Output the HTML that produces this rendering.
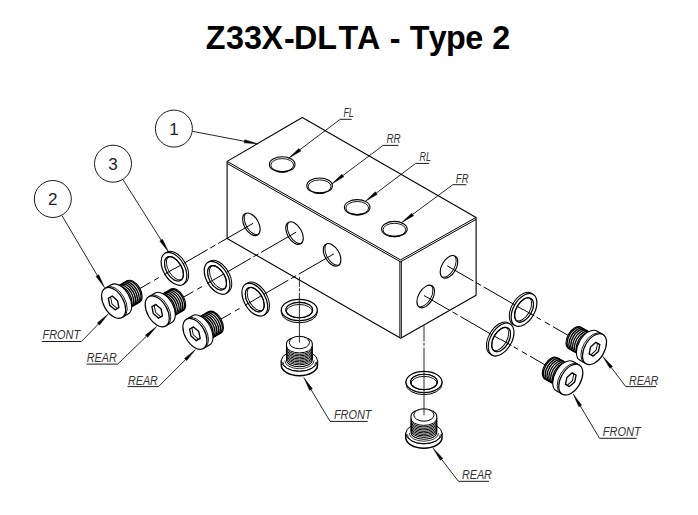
<!DOCTYPE html>
<html lang="en"><head><meta charset="utf-8"><title>Z33X-DLTA - Type 2</title>
<style>
html,body{margin:0;padding:0;background:#fff;}
body{width:698px;height:515px;overflow:hidden;}
svg{display:block;}
text{font-family:"Liberation Sans",Arial,Helvetica,sans-serif;stroke:none;fill:#000;}
.tt{font-kerning:none;}
.lb{fill:#333;}
.bl{fill:#222;}
</style></head><body>
<svg width="698" height="515" viewBox="0 0 698 515" fill="none" stroke="#000" stroke-linecap="butt" stroke-linejoin="round">
<rect x="0" y="0" width="698" height="515" fill="#fff" stroke="none"/>
<text transform="translate(0 49) scale(1 1.03)" x="205.8 225.9 244.1 261.4 283.9 293.9 317.3 338.5 356.9 380.2 389.8 400.2 409.7 428.7 446.0 465.3 483.2 492.2" y="0 0 0 0 1.2 0 0 0 0 0 1.2 0 0 0 0 0 0 0" font-size="32.3" font-weight="bold" class="tt">Z33X-DLTA - Type 2</text>
<polygon points="302.3,117.5 476.1,217.4 476.1,295.3 400.7,338.2 227.1,238.4 227.1,161.4" fill="#fff" stroke-width="1.1"/>
<line x1="227.10" y1="161.40" x2="400.55" y2="259.90" stroke-width="1.0" />
<line x1="400.55" y1="259.90" x2="476.10" y2="217.40" stroke-width="1.0" />
<line x1="227.10" y1="163.35" x2="400.55" y2="261.85" stroke-width="1.0" />
<line x1="400.55" y1="261.85" x2="476.10" y2="219.35" stroke-width="1.0" />
<line x1="399.85" y1="261.10" x2="399.85" y2="337.90" stroke-width="0.95" />
<line x1="401.35" y1="261.10" x2="401.35" y2="337.90" stroke-width="0.95" />
<ellipse cx="282.20" cy="164.40" rx="12.8" ry="7.7" fill="#fff" stroke-width="1.1"/>
<ellipse cx="282.20" cy="165.10" rx="11.40" ry="6.50" fill="none" stroke-width="0.9"/>
<path d="M 277.08 171.18 A 12.80 7.70 0 0 0 287.32 171.18" fill="none" stroke-width="1.5"/>
<ellipse cx="319.60" cy="185.70" rx="12.8" ry="7.7" fill="#fff" stroke-width="1.1"/>
<ellipse cx="319.60" cy="186.40" rx="11.40" ry="6.50" fill="none" stroke-width="0.9"/>
<path d="M 314.48 192.48 A 12.80 7.70 0 0 0 324.72 192.48" fill="none" stroke-width="1.5"/>
<ellipse cx="357.20" cy="207.30" rx="12.8" ry="7.7" fill="#fff" stroke-width="1.1"/>
<ellipse cx="357.20" cy="208.00" rx="11.40" ry="6.50" fill="none" stroke-width="0.9"/>
<path d="M 352.08 214.08 A 12.80 7.70 0 0 0 362.32 214.08" fill="none" stroke-width="1.5"/>
<ellipse cx="394.40" cy="229.10" rx="12.8" ry="7.7" fill="#fff" stroke-width="1.1"/>
<ellipse cx="394.40" cy="229.80" rx="11.40" ry="6.50" fill="none" stroke-width="0.9"/>
<path d="M 389.28 235.88 A 12.80 7.70 0 0 0 399.52 235.88" fill="none" stroke-width="1.5"/>
<g transform="translate(251.40 224.30) rotate(60)">
<clipPath id="hc251_224"><ellipse cx="0" cy="0" rx="12.4" ry="7.2"/></clipPath>
<ellipse cx="0" cy="0" rx="12.4" ry="7.2" fill="#fff" stroke="none"/>
<ellipse cx="0" cy="-1.9" rx="12.4" ry="7.2" fill="none" stroke-width="0.9" clip-path="url(#hc251_224)"/>
<ellipse cx="0" cy="0" rx="12.4" ry="7.2" fill="none" stroke-width="1.1"/>
</g>
<g transform="translate(294.50 233.10) rotate(60)">
<clipPath id="hc294_233"><ellipse cx="0" cy="0" rx="12.4" ry="7.2"/></clipPath>
<ellipse cx="0" cy="0" rx="12.4" ry="7.2" fill="#fff" stroke="none"/>
<ellipse cx="0" cy="-1.9" rx="12.4" ry="7.2" fill="none" stroke-width="0.9" clip-path="url(#hc294_233)"/>
<ellipse cx="0" cy="0" rx="12.4" ry="7.2" fill="none" stroke-width="1.1"/>
</g>
<g transform="translate(332.10 254.90) rotate(60)">
<clipPath id="hc332_254"><ellipse cx="0" cy="0" rx="12.4" ry="7.2"/></clipPath>
<ellipse cx="0" cy="0" rx="12.4" ry="7.2" fill="#fff" stroke="none"/>
<ellipse cx="0" cy="-1.9" rx="12.4" ry="7.2" fill="none" stroke-width="0.9" clip-path="url(#hc332_254)"/>
<ellipse cx="0" cy="0" rx="12.4" ry="7.2" fill="none" stroke-width="1.1"/>
</g>
<g transform="translate(449.00 266.90) rotate(-60)">
<clipPath id="hc449_266"><ellipse cx="0" cy="0" rx="12.4" ry="7.2"/></clipPath>
<ellipse cx="0" cy="0" rx="12.4" ry="7.2" fill="#fff" stroke="none"/>
<ellipse cx="0" cy="-1.9" rx="12.4" ry="7.2" fill="none" stroke-width="0.9" clip-path="url(#hc449_266)"/>
<ellipse cx="0" cy="0" rx="12.4" ry="7.2" fill="none" stroke-width="1.1"/>
</g>
<g transform="translate(425.70 296.50) rotate(-60)">
<clipPath id="hc425_296"><ellipse cx="0" cy="0" rx="12.4" ry="7.2"/></clipPath>
<ellipse cx="0" cy="0" rx="12.4" ry="7.2" fill="#fff" stroke="none"/>
<ellipse cx="0" cy="-1.9" rx="12.4" ry="7.2" fill="none" stroke-width="0.9" clip-path="url(#hc425_296)"/>
<ellipse cx="0" cy="0" rx="12.4" ry="7.2" fill="none" stroke-width="1.1"/>
</g>
<line x1="253.13" y1="223.30" x2="218.06" y2="243.55" stroke-width="1.0" />
<line x1="215.46" y1="245.05" x2="210.26" y2="248.05" stroke-width="1.0" />
<line x1="207.67" y1="249.55" x2="174.97" y2="268.43" stroke-width="1.0" />
<line x1="296.23" y1="232.10" x2="261.16" y2="252.35" stroke-width="1.0" />
<line x1="258.56" y1="253.85" x2="253.36" y2="256.85" stroke-width="1.0" />
<line x1="250.77" y1="258.35" x2="217.99" y2="277.28" stroke-width="1.0" />
<line x1="333.83" y1="253.90" x2="298.76" y2="274.15" stroke-width="1.0" />
<line x1="296.16" y1="275.65" x2="290.96" y2="278.65" stroke-width="1.0" />
<line x1="288.37" y1="280.15" x2="255.66" y2="299.03" stroke-width="1.0" />
<line x1="447.27" y1="265.90" x2="473.25" y2="280.90" stroke-width="1.0" />
<line x1="475.85" y1="282.40" x2="481.04" y2="285.40" stroke-width="1.0" />
<line x1="483.64" y1="286.90" x2="522.98" y2="309.61" stroke-width="1.0" />
<line x1="423.97" y1="295.50" x2="449.95" y2="310.50" stroke-width="1.0" />
<line x1="452.55" y1="312.00" x2="457.74" y2="315.00" stroke-width="1.0" />
<line x1="460.34" y1="316.50" x2="499.98" y2="339.39" stroke-width="1.0" />
<g transform="translate(174.90 268.30) rotate(60) translate(0 1.05)">
<path d="M -18.0 0 L -18.0 -2.1 A 18.0 10.6 0 0 1 18.0 -2.1 L 18.0 0" fill="none" stroke-width="1.0"/>
<path fill-rule="evenodd" d="M -18.0 0 A 18.0 10.6 0 1 0 18.0 0 A 18.0 10.6 0 1 0 -18.0 0 Z M -13.3 0 A 13.3 7.7 0 1 0 13.3 0 A 13.3 7.7 0 1 0 -13.3 0 Z" fill="#fff" stroke-width="1.2"/>
<clipPath id="wc174_268"><ellipse cx="0" cy="0" rx="13.3" ry="7.7"/></clipPath>
<g clip-path="url(#wc174_268)"><path fill-rule="evenodd" d="M -16.3 -10.7 h 32.6 v 21.4 h -32.6 Z M -13.3 -2.1 A 13.3 7.7 0 1 0 13.3 -2.1 A 13.3 7.7 0 1 0 -13.3 -2.1 Z" fill="#fff" stroke="none"/><ellipse cx="0" cy="-2.1" rx="13.3" ry="7.7" fill="none" stroke-width="0.9"/></g>
<ellipse cx="0" cy="0" rx="13.3" ry="7.7" fill="none" stroke-width="1.1"/>
</g>
<g transform="translate(218.00 277.30) rotate(60) translate(0 1.05)">
<path d="M -18.0 0 L -18.0 -2.1 A 18.0 10.6 0 0 1 18.0 -2.1 L 18.0 0" fill="none" stroke-width="1.0"/>
<path fill-rule="evenodd" d="M -18.0 0 A 18.0 10.6 0 1 0 18.0 0 A 18.0 10.6 0 1 0 -18.0 0 Z M -13.3 0 A 13.3 7.7 0 1 0 13.3 0 A 13.3 7.7 0 1 0 -13.3 0 Z" fill="#fff" stroke-width="1.2"/>
<clipPath id="wc218_277"><ellipse cx="0" cy="0" rx="13.3" ry="7.7"/></clipPath>
<g clip-path="url(#wc218_277)"><path fill-rule="evenodd" d="M -16.3 -10.7 h 32.6 v 21.4 h -32.6 Z M -13.3 -2.1 A 13.3 7.7 0 1 0 13.3 -2.1 A 13.3 7.7 0 1 0 -13.3 -2.1 Z" fill="#fff" stroke="none"/><ellipse cx="0" cy="-2.1" rx="13.3" ry="7.7" fill="none" stroke-width="0.9"/></g>
<ellipse cx="0" cy="0" rx="13.3" ry="7.7" fill="none" stroke-width="1.1"/>
</g>
<g transform="translate(255.70 299.10) rotate(60) translate(0 1.05)">
<path d="M -18.0 0 L -18.0 -2.1 A 18.0 10.6 0 0 1 18.0 -2.1 L 18.0 0" fill="none" stroke-width="1.0"/>
<path fill-rule="evenodd" d="M -18.0 0 A 18.0 10.6 0 1 0 18.0 0 A 18.0 10.6 0 1 0 -18.0 0 Z M -13.3 0 A 13.3 7.7 0 1 0 13.3 0 A 13.3 7.7 0 1 0 -13.3 0 Z" fill="#fff" stroke-width="1.2"/>
<clipPath id="wc255_299"><ellipse cx="0" cy="0" rx="13.3" ry="7.7"/></clipPath>
<g clip-path="url(#wc255_299)"><path fill-rule="evenodd" d="M -16.3 -10.7 h 32.6 v 21.4 h -32.6 Z M -13.3 -2.1 A 13.3 7.7 0 1 0 13.3 -2.1 A 13.3 7.7 0 1 0 -13.3 -2.1 Z" fill="#fff" stroke="none"/><ellipse cx="0" cy="-2.1" rx="13.3" ry="7.7" fill="none" stroke-width="0.9"/></g>
<ellipse cx="0" cy="0" rx="13.3" ry="7.7" fill="none" stroke-width="1.1"/>
</g>
<g transform="translate(523.10 309.40) rotate(-60) translate(0 1.05)">
<path d="M -18.0 0 L -18.0 -2.1 A 18.0 10.6 0 0 1 18.0 -2.1 L 18.0 0" fill="none" stroke-width="1.0"/>
<path fill-rule="evenodd" d="M -18.0 0 A 18.0 10.6 0 1 0 18.0 0 A 18.0 10.6 0 1 0 -18.0 0 Z M -13.3 0 A 13.3 7.7 0 1 0 13.3 0 A 13.3 7.7 0 1 0 -13.3 0 Z" fill="#fff" stroke-width="1.2"/>
<clipPath id="wc523_309"><ellipse cx="0" cy="0" rx="13.3" ry="7.7"/></clipPath>
<g clip-path="url(#wc523_309)"><path fill-rule="evenodd" d="M -16.3 -10.7 h 32.6 v 21.4 h -32.6 Z M -13.3 -2.1 A 13.3 7.7 0 1 0 13.3 -2.1 A 13.3 7.7 0 1 0 -13.3 -2.1 Z" fill="#fff" stroke="none"/><ellipse cx="0" cy="-2.1" rx="13.3" ry="7.7" fill="none" stroke-width="0.9"/></g>
<ellipse cx="0" cy="0" rx="13.3" ry="7.7" fill="none" stroke-width="1.1"/>
</g>
<g transform="translate(500.20 339.00) rotate(-60) translate(0 1.05)">
<path d="M -18.0 0 L -18.0 -2.1 A 18.0 10.6 0 0 1 18.0 -2.1 L 18.0 0" fill="none" stroke-width="1.0"/>
<path fill-rule="evenodd" d="M -18.0 0 A 18.0 10.6 0 1 0 18.0 0 A 18.0 10.6 0 1 0 -18.0 0 Z M -13.3 0 A 13.3 7.7 0 1 0 13.3 0 A 13.3 7.7 0 1 0 -13.3 0 Z" fill="#fff" stroke-width="1.2"/>
<clipPath id="wc500_339"><ellipse cx="0" cy="0" rx="13.3" ry="7.7"/></clipPath>
<g clip-path="url(#wc500_339)"><path fill-rule="evenodd" d="M -16.3 -10.7 h 32.6 v 21.4 h -32.6 Z M -13.3 -2.1 A 13.3 7.7 0 1 0 13.3 -2.1 A 13.3 7.7 0 1 0 -13.3 -2.1 Z" fill="#fff" stroke="none"/><ellipse cx="0" cy="-2.1" rx="13.3" ry="7.7" fill="none" stroke-width="0.9"/></g>
<ellipse cx="0" cy="0" rx="13.3" ry="7.7" fill="none" stroke-width="1.1"/>
</g>
<g transform="translate(299.30 311.10) rotate(0) translate(0 -1.05)">
<path d="M -18.0 0 L -18.0 2.1 A 18.0 10.6 0 0 0 18.0 2.1 L 18.0 0" fill="none" stroke-width="1.0"/>
<path fill-rule="evenodd" d="M -18.0 0 A 18.0 10.6 0 1 0 18.0 0 A 18.0 10.6 0 1 0 -18.0 0 Z M -13.3 0 A 13.3 7.7 0 1 0 13.3 0 A 13.3 7.7 0 1 0 -13.3 0 Z" fill="#fff" stroke-width="1.2"/>
<clipPath id="wc299_311"><ellipse cx="0" cy="0" rx="13.3" ry="7.7"/></clipPath>
<g clip-path="url(#wc299_311)"><path fill-rule="evenodd" d="M -16.3 -10.7 h 32.6 v 21.4 h -32.6 Z M -13.3 2.1 A 13.3 7.7 0 1 0 13.3 2.1 A 13.3 7.7 0 1 0 -13.3 2.1 Z" fill="#fff" stroke="none"/><ellipse cx="0" cy="2.1" rx="13.3" ry="7.7" fill="none" stroke-width="0.9"/></g>
<ellipse cx="0" cy="0" rx="13.3" ry="7.7" fill="none" stroke-width="1.1"/>
</g>
<g transform="translate(424.00 383.00) rotate(0) translate(0 -1.05)">
<path d="M -18.0 0 L -18.0 2.1 A 18.0 10.6 0 0 0 18.0 2.1 L 18.0 0" fill="none" stroke-width="1.0"/>
<path fill-rule="evenodd" d="M -18.0 0 A 18.0 10.6 0 1 0 18.0 0 A 18.0 10.6 0 1 0 -18.0 0 Z M -13.3 0 A 13.3 7.7 0 1 0 13.3 0 A 13.3 7.7 0 1 0 -13.3 0 Z" fill="#fff" stroke-width="1.2"/>
<clipPath id="wc424_383"><ellipse cx="0" cy="0" rx="13.3" ry="7.7"/></clipPath>
<g clip-path="url(#wc424_383)"><path fill-rule="evenodd" d="M -16.3 -10.7 h 32.6 v 21.4 h -32.6 Z M -13.3 2.1 A 13.3 7.7 0 1 0 13.3 2.1 A 13.3 7.7 0 1 0 -13.3 2.1 Z" fill="#fff" stroke="none"/><ellipse cx="0" cy="2.1" rx="13.3" ry="7.7" fill="none" stroke-width="0.9"/></g>
<ellipse cx="0" cy="0" rx="13.3" ry="7.7" fill="none" stroke-width="1.1"/>
</g>
<line x1="174.90" y1="268.30" x2="164.07" y2="274.55" stroke-width="1.0" />
<line x1="158.88" y1="277.55" x2="154.12" y2="280.30" stroke-width="1.0" />
<line x1="150.22" y1="282.55" x2="130.23" y2="294.09" stroke-width="1.0" />
<line x1="218.00" y1="277.30" x2="207.17" y2="283.55" stroke-width="1.0" />
<line x1="201.98" y1="286.55" x2="197.22" y2="289.30" stroke-width="1.0" />
<line x1="193.32" y1="291.55" x2="173.96" y2="302.73" stroke-width="1.0" />
<line x1="255.70" y1="299.10" x2="244.87" y2="305.35" stroke-width="1.0" />
<line x1="239.68" y1="308.35" x2="234.92" y2="311.10" stroke-width="1.0" />
<line x1="231.02" y1="313.35" x2="211.36" y2="324.70" stroke-width="1.0" />
<line x1="523.10" y1="309.40" x2="534.36" y2="315.90" stroke-width="1.0" />
<line x1="536.52" y1="317.15" x2="540.85" y2="319.65" stroke-width="1.0" />
<line x1="544.75" y1="321.90" x2="549.95" y2="324.90" stroke-width="1.0" />
<line x1="552.98" y1="326.65" x2="577.61" y2="340.87" stroke-width="1.0" />
<line x1="500.20" y1="339.00" x2="511.46" y2="345.50" stroke-width="1.0" />
<line x1="513.62" y1="346.75" x2="517.95" y2="349.25" stroke-width="1.0" />
<line x1="521.85" y1="351.50" x2="527.05" y2="354.50" stroke-width="1.0" />
<line x1="530.08" y1="356.25" x2="554.49" y2="370.34" stroke-width="1.0" />
<g transform="translate(114.30 302.50) rotate(60) translate(0 0.8)">
<path d="M -12.3 -7.0 L -12.3 -22.8 A 12.3 7.2 0 0 1 12.3 -22.8 L 12.3 -7.0 Z" fill="#fff" stroke-width="1.1"/>
<path d="M -12.3 -21.60 A 12.3 7.2 0 0 1 12.3 -21.60" fill="none" stroke="#000" stroke-width="1.35"/>
<path d="M -12.3 -19.49 A 12.3 7.2 0 0 1 12.3 -19.49" fill="none" stroke="#000" stroke-width="1.35"/>
<path d="M -12.3 -17.37 A 12.3 7.2 0 0 1 12.3 -17.37" fill="none" stroke="#000" stroke-width="1.35"/>
<path d="M -12.3 -15.26 A 12.3 7.2 0 0 1 12.3 -15.26" fill="none" stroke="#000" stroke-width="1.35"/>
<path d="M -12.3 -13.14 A 12.3 7.2 0 0 1 12.3 -13.14" fill="none" stroke="#000" stroke-width="1.35"/>
<path d="M -12.3 -11.03 A 12.3 7.2 0 0 1 12.3 -11.03" fill="none" stroke="#000" stroke-width="1.35"/>
<path d="M -12.3 -8.91 A 12.3 7.2 0 0 1 12.3 -8.91" fill="none" stroke="#000" stroke-width="1.35"/>
<path d="M -16.9 0 L -16.9 -7.0 A 16.9 9.9 0 0 1 16.9 -7.0 L 16.9 0 Z" fill="#fff" stroke-width="1.1"/>
<path d="M -16.9 -1.8 A 16.9 9.9 0 0 1 16.9 -1.8" fill="none" stroke-width="0.8"/>
<ellipse cx="0" cy="0" rx="16.9" ry="9.9" fill="#fff" stroke-width="1.2"/>
<clipPath id="hx114_302"><polygon points="6.67,2.26 0.00,4.51 -6.67,2.26 -6.67,-2.26 -0.00,-4.51 6.67,-2.26"/></clipPath>
<polygon points="6.67,2.26 0.00,4.51 -6.67,2.26 -6.67,-2.26 -0.00,-4.51 6.67,-2.26" fill="#fff" stroke="none"/>
<polygon points="6.67,-0.34 0.00,1.91 -6.67,-0.34 -6.67,-4.86 -0.00,-7.11 6.67,-4.86" fill="none" stroke-width="0.9" clip-path="url(#hx114_302)"/>
<polygon points="6.67,2.26 0.00,4.51 -6.67,2.26 -6.67,-2.26 -0.00,-4.51 6.67,-2.26" fill="none" stroke-width="1.35"/>
</g>
<g transform="translate(157.90 310.90) rotate(60) translate(0 0.8)">
<path d="M -12.3 -7.0 L -12.3 -22.8 A 12.3 7.2 0 0 1 12.3 -22.8 L 12.3 -7.0 Z" fill="#fff" stroke-width="1.1"/>
<path d="M -12.3 -21.60 A 12.3 7.2 0 0 1 12.3 -21.60" fill="none" stroke="#000" stroke-width="1.35"/>
<path d="M -12.3 -19.49 A 12.3 7.2 0 0 1 12.3 -19.49" fill="none" stroke="#000" stroke-width="1.35"/>
<path d="M -12.3 -17.37 A 12.3 7.2 0 0 1 12.3 -17.37" fill="none" stroke="#000" stroke-width="1.35"/>
<path d="M -12.3 -15.26 A 12.3 7.2 0 0 1 12.3 -15.26" fill="none" stroke="#000" stroke-width="1.35"/>
<path d="M -12.3 -13.14 A 12.3 7.2 0 0 1 12.3 -13.14" fill="none" stroke="#000" stroke-width="1.35"/>
<path d="M -12.3 -11.03 A 12.3 7.2 0 0 1 12.3 -11.03" fill="none" stroke="#000" stroke-width="1.35"/>
<path d="M -12.3 -8.91 A 12.3 7.2 0 0 1 12.3 -8.91" fill="none" stroke="#000" stroke-width="1.35"/>
<path d="M -16.9 0 L -16.9 -7.0 A 16.9 9.9 0 0 1 16.9 -7.0 L 16.9 0 Z" fill="#fff" stroke-width="1.1"/>
<path d="M -16.9 -1.8 A 16.9 9.9 0 0 1 16.9 -1.8" fill="none" stroke-width="0.8"/>
<ellipse cx="0" cy="0" rx="16.9" ry="9.9" fill="#fff" stroke-width="1.2"/>
<clipPath id="hx157_310"><polygon points="6.67,2.26 0.00,4.51 -6.67,2.26 -6.67,-2.26 -0.00,-4.51 6.67,-2.26"/></clipPath>
<polygon points="6.67,2.26 0.00,4.51 -6.67,2.26 -6.67,-2.26 -0.00,-4.51 6.67,-2.26" fill="#fff" stroke="none"/>
<polygon points="6.67,-0.34 0.00,1.91 -6.67,-0.34 -6.67,-4.86 -0.00,-7.11 6.67,-4.86" fill="none" stroke-width="0.9" clip-path="url(#hx157_310)"/>
<polygon points="6.67,2.26 0.00,4.51 -6.67,2.26 -6.67,-2.26 -0.00,-4.51 6.67,-2.26" fill="none" stroke-width="1.35"/>
</g>
<g transform="translate(195.60 333.40) rotate(60) translate(0 0.8)">
<path d="M -12.3 -7.0 L -12.3 -22.8 A 12.3 7.2 0 0 1 12.3 -22.8 L 12.3 -7.0 Z" fill="#fff" stroke-width="1.1"/>
<path d="M -12.3 -21.60 A 12.3 7.2 0 0 1 12.3 -21.60" fill="none" stroke="#000" stroke-width="1.35"/>
<path d="M -12.3 -19.49 A 12.3 7.2 0 0 1 12.3 -19.49" fill="none" stroke="#000" stroke-width="1.35"/>
<path d="M -12.3 -17.37 A 12.3 7.2 0 0 1 12.3 -17.37" fill="none" stroke="#000" stroke-width="1.35"/>
<path d="M -12.3 -15.26 A 12.3 7.2 0 0 1 12.3 -15.26" fill="none" stroke="#000" stroke-width="1.35"/>
<path d="M -12.3 -13.14 A 12.3 7.2 0 0 1 12.3 -13.14" fill="none" stroke="#000" stroke-width="1.35"/>
<path d="M -12.3 -11.03 A 12.3 7.2 0 0 1 12.3 -11.03" fill="none" stroke="#000" stroke-width="1.35"/>
<path d="M -12.3 -8.91 A 12.3 7.2 0 0 1 12.3 -8.91" fill="none" stroke="#000" stroke-width="1.35"/>
<path d="M -16.9 0 L -16.9 -7.0 A 16.9 9.9 0 0 1 16.9 -7.0 L 16.9 0 Z" fill="#fff" stroke-width="1.1"/>
<path d="M -16.9 -1.8 A 16.9 9.9 0 0 1 16.9 -1.8" fill="none" stroke-width="0.8"/>
<ellipse cx="0" cy="0" rx="16.9" ry="9.9" fill="#fff" stroke-width="1.2"/>
<clipPath id="hx195_333"><polygon points="6.67,2.26 0.00,4.51 -6.67,2.26 -6.67,-2.26 -0.00,-4.51 6.67,-2.26"/></clipPath>
<polygon points="6.67,2.26 0.00,4.51 -6.67,2.26 -6.67,-2.26 -0.00,-4.51 6.67,-2.26" fill="#fff" stroke="none"/>
<polygon points="6.67,-0.34 0.00,1.91 -6.67,-0.34 -6.67,-4.86 -0.00,-7.11 6.67,-4.86" fill="none" stroke-width="0.9" clip-path="url(#hx195_333)"/>
<polygon points="6.67,2.26 0.00,4.51 -6.67,2.26 -6.67,-2.26 -0.00,-4.51 6.67,-2.26" fill="none" stroke-width="1.35"/>
</g>
<g transform="translate(593.80 348.80) rotate(-60) translate(0 0.8)">
<path d="M -12.3 -7.0 L -12.3 -22.8 A 12.3 7.2 0 0 1 12.3 -22.8 L 12.3 -7.0 Z" fill="#fff" stroke-width="1.1"/>
<path d="M -12.3 -21.60 A 12.3 7.2 0 0 1 12.3 -21.60" fill="none" stroke="#000" stroke-width="1.35"/>
<path d="M -12.3 -19.49 A 12.3 7.2 0 0 1 12.3 -19.49" fill="none" stroke="#000" stroke-width="1.35"/>
<path d="M -12.3 -17.37 A 12.3 7.2 0 0 1 12.3 -17.37" fill="none" stroke="#000" stroke-width="1.35"/>
<path d="M -12.3 -15.26 A 12.3 7.2 0 0 1 12.3 -15.26" fill="none" stroke="#000" stroke-width="1.35"/>
<path d="M -12.3 -13.14 A 12.3 7.2 0 0 1 12.3 -13.14" fill="none" stroke="#000" stroke-width="1.35"/>
<path d="M -12.3 -11.03 A 12.3 7.2 0 0 1 12.3 -11.03" fill="none" stroke="#000" stroke-width="1.35"/>
<path d="M -12.3 -8.91 A 12.3 7.2 0 0 1 12.3 -8.91" fill="none" stroke="#000" stroke-width="1.35"/>
<path d="M -16.9 0 L -16.9 -7.0 A 16.9 9.9 0 0 1 16.9 -7.0 L 16.9 0 Z" fill="#fff" stroke-width="1.1"/>
<path d="M -16.9 -1.8 A 16.9 9.9 0 0 1 16.9 -1.8" fill="none" stroke-width="0.8"/>
<ellipse cx="0" cy="0" rx="16.9" ry="9.9" fill="#fff" stroke-width="1.2"/>
<clipPath id="hx593_348"><polygon points="6.67,2.26 0.00,4.51 -6.67,2.26 -6.67,-2.26 -0.00,-4.51 6.67,-2.26"/></clipPath>
<polygon points="6.67,2.26 0.00,4.51 -6.67,2.26 -6.67,-2.26 -0.00,-4.51 6.67,-2.26" fill="#fff" stroke="none"/>
<polygon points="6.67,-0.34 0.00,1.91 -6.67,-0.34 -6.67,-4.86 -0.00,-7.11 6.67,-4.86" fill="none" stroke-width="0.9" clip-path="url(#hx593_348)"/>
<polygon points="6.67,2.26 0.00,4.51 -6.67,2.26 -6.67,-2.26 -0.00,-4.51 6.67,-2.26" fill="none" stroke-width="1.35"/>
</g>
<g transform="translate(570.10 379.30) rotate(-60) translate(0 0.8)">
<path d="M -12.3 -7.0 L -12.3 -22.8 A 12.3 7.2 0 0 1 12.3 -22.8 L 12.3 -7.0 Z" fill="#fff" stroke-width="1.1"/>
<path d="M -12.3 -21.60 A 12.3 7.2 0 0 1 12.3 -21.60" fill="none" stroke="#000" stroke-width="1.35"/>
<path d="M -12.3 -19.49 A 12.3 7.2 0 0 1 12.3 -19.49" fill="none" stroke="#000" stroke-width="1.35"/>
<path d="M -12.3 -17.37 A 12.3 7.2 0 0 1 12.3 -17.37" fill="none" stroke="#000" stroke-width="1.35"/>
<path d="M -12.3 -15.26 A 12.3 7.2 0 0 1 12.3 -15.26" fill="none" stroke="#000" stroke-width="1.35"/>
<path d="M -12.3 -13.14 A 12.3 7.2 0 0 1 12.3 -13.14" fill="none" stroke="#000" stroke-width="1.35"/>
<path d="M -12.3 -11.03 A 12.3 7.2 0 0 1 12.3 -11.03" fill="none" stroke="#000" stroke-width="1.35"/>
<path d="M -12.3 -8.91 A 12.3 7.2 0 0 1 12.3 -8.91" fill="none" stroke="#000" stroke-width="1.35"/>
<path d="M -16.9 0 L -16.9 -7.0 A 16.9 9.9 0 0 1 16.9 -7.0 L 16.9 0 Z" fill="#fff" stroke-width="1.1"/>
<path d="M -16.9 -1.8 A 16.9 9.9 0 0 1 16.9 -1.8" fill="none" stroke-width="0.8"/>
<ellipse cx="0" cy="0" rx="16.9" ry="9.9" fill="#fff" stroke-width="1.2"/>
<clipPath id="hx570_379"><polygon points="6.67,2.26 0.00,4.51 -6.67,2.26 -6.67,-2.26 -0.00,-4.51 6.67,-2.26"/></clipPath>
<polygon points="6.67,2.26 0.00,4.51 -6.67,2.26 -6.67,-2.26 -0.00,-4.51 6.67,-2.26" fill="#fff" stroke="none"/>
<polygon points="6.67,-0.34 0.00,1.91 -6.67,-0.34 -6.67,-4.86 -0.00,-7.11 6.67,-4.86" fill="none" stroke-width="0.9" clip-path="url(#hx570_379)"/>
<polygon points="6.67,2.26 0.00,4.51 -6.67,2.26 -6.67,-2.26 -0.00,-4.51 6.67,-2.26" fill="none" stroke-width="1.35"/>
</g>
<g transform="translate(299.40 360.80)">
<path d="M -18.1 0 L -18.1 4.5 A 18.1 10.4 0 0 0 18.1 4.5 L 18.1 0 Z" fill="#fff" stroke-width="1.5"/>
<ellipse cx="0" cy="0" rx="18.1" ry="10.4" fill="#fff" stroke-width="1.0"/>
<path d="M -16.5 1.2 A 16.5 9.4 0 0 0 16.5 1.2" fill="none" stroke-width="0.8"/>
<path d="M -14.700000000000001 -0.3 A 14.700000000000001 8.2 0 0 0 14.700000000000001 -0.3" fill="none" stroke-width="0.8"/>
<path d="M -12.9 -17.1 L -12.9 -1 A 12.9 7.0 0 0 0 12.9 -1 L 12.9 -17.1 A 12.9 7.0 0 0 0 -12.9 -17.1 Z" fill="#fff" stroke-width="1.1"/>
<path d="M -12.9 -14.90 A 12.9 7.0 0 0 0 12.9 -14.90" fill="none" stroke="#000" stroke-width="1.0"/>
<path d="M -12.9 -13.40 A 12.9 7.0 0 0 0 12.9 -13.40" fill="none" stroke="#000" stroke-width="1.0"/>
<path d="M -12.9 -11.90 A 12.9 7.0 0 0 0 12.9 -11.90" fill="none" stroke="#000" stroke-width="1.0"/>
<path d="M -12.9 -10.40 A 12.9 7.0 0 0 0 12.9 -10.40" fill="none" stroke="#000" stroke-width="1.0"/>
<path d="M -12.9 -8.90 A 12.9 7.0 0 0 0 12.9 -8.90" fill="none" stroke="#000" stroke-width="1.0"/>
<path d="M -12.9 -7.40 A 12.9 7.0 0 0 0 12.9 -7.40" fill="none" stroke="#000" stroke-width="1.0"/>
<path d="M -12.9 -5.90 A 12.9 7.0 0 0 0 12.9 -5.90" fill="none" stroke="#000" stroke-width="1.0"/>
<path d="M -12.9 -4.40 A 12.9 7.0 0 0 0 12.9 -4.40" fill="none" stroke="#000" stroke-width="1.0"/>
<path d="M -12.9 -2.90 A 12.9 7.0 0 0 0 12.9 -2.90" fill="none" stroke="#000" stroke-width="1.0"/>
<ellipse cx="0" cy="-18.3" rx="10.1" ry="6.2" fill="#fff" stroke-width="1.0"/>
</g>
<g transform="translate(423.90 433.30)">
<path d="M -18.1 0 L -18.1 4.5 A 18.1 10.4 0 0 0 18.1 4.5 L 18.1 0 Z" fill="#fff" stroke-width="1.5"/>
<ellipse cx="0" cy="0" rx="18.1" ry="10.4" fill="#fff" stroke-width="1.0"/>
<path d="M -16.5 1.2 A 16.5 9.4 0 0 0 16.5 1.2" fill="none" stroke-width="0.8"/>
<path d="M -14.700000000000001 -0.3 A 14.700000000000001 8.2 0 0 0 14.700000000000001 -0.3" fill="none" stroke-width="0.8"/>
<path d="M -12.9 -17.1 L -12.9 -1 A 12.9 7.0 0 0 0 12.9 -1 L 12.9 -17.1 A 12.9 7.0 0 0 0 -12.9 -17.1 Z" fill="#fff" stroke-width="1.1"/>
<path d="M -12.9 -14.90 A 12.9 7.0 0 0 0 12.9 -14.90" fill="none" stroke="#000" stroke-width="1.0"/>
<path d="M -12.9 -13.40 A 12.9 7.0 0 0 0 12.9 -13.40" fill="none" stroke="#000" stroke-width="1.0"/>
<path d="M -12.9 -11.90 A 12.9 7.0 0 0 0 12.9 -11.90" fill="none" stroke="#000" stroke-width="1.0"/>
<path d="M -12.9 -10.40 A 12.9 7.0 0 0 0 12.9 -10.40" fill="none" stroke="#000" stroke-width="1.0"/>
<path d="M -12.9 -8.90 A 12.9 7.0 0 0 0 12.9 -8.90" fill="none" stroke="#000" stroke-width="1.0"/>
<path d="M -12.9 -7.40 A 12.9 7.0 0 0 0 12.9 -7.40" fill="none" stroke="#000" stroke-width="1.0"/>
<path d="M -12.9 -5.90 A 12.9 7.0 0 0 0 12.9 -5.90" fill="none" stroke="#000" stroke-width="1.0"/>
<path d="M -12.9 -4.40 A 12.9 7.0 0 0 0 12.9 -4.40" fill="none" stroke="#000" stroke-width="1.0"/>
<path d="M -12.9 -2.90 A 12.9 7.0 0 0 0 12.9 -2.90" fill="none" stroke="#000" stroke-width="1.0"/>
<ellipse cx="0" cy="-18.3" rx="10.1" ry="6.2" fill="#fff" stroke-width="1.0"/>
</g>
<g stroke="#222">
<line x1="299.40" y1="276.80" x2="299.40" y2="342.60" stroke-width="0.95" stroke-dasharray="10 1.5 3 1.5 200" stroke-dashoffset="0"/>
<line x1="424.00" y1="325.40" x2="424.00" y2="415.20" stroke-width="0.95" stroke-dasharray="16 1.5 3 1.5 200" stroke-dashoffset="0"/>
</g>
<line x1="192.40" y1="131.30" x2="244.45" y2="141.27" stroke-width="0.85" />
<polygon points="258.20,143.90 244.16,142.79 244.74,139.74" fill="#000" stroke="#000" stroke-width="0.5" stroke-linejoin="miter"/>
<line x1="123.30" y1="180.20" x2="161.13" y2="240.16" stroke-width="0.85" />
<polygon points="168.60,252.00 159.82,240.99 162.44,239.33" fill="#000" stroke="#000" stroke-width="0.5" stroke-linejoin="miter"/>
<line x1="62.10" y1="215.80" x2="97.38" y2="275.55" stroke-width="0.85" />
<polygon points="104.50,287.60 96.05,276.33 98.72,274.76" fill="#000" stroke="#000" stroke-width="0.5" stroke-linejoin="miter"/>
<circle cx="173.90" cy="128.60" r="18.5" fill="#fff" stroke-width="0.9"/>
<text x="173.90" y="134.60" font-size="17" text-anchor="middle" class="bl">1</text>
<circle cx="113.00" cy="163.70" r="18.5" fill="#fff" stroke-width="0.9"/>
<text x="113.00" y="169.70" font-size="17" text-anchor="middle" class="bl">3</text>
<circle cx="52.80" cy="199.00" r="18.5" fill="#fff" stroke-width="0.9"/>
<text x="52.80" y="205.00" font-size="17" text-anchor="middle" class="bl">2</text>
<line x1="340.20" y1="119.30" x2="351.70" y2="119.30" stroke-width="0.9" />
<text x="343.40" y="117.20" font-size="12.3" font-style="italic" textLength="10.40" lengthAdjust="spacingAndGlyphs" class="lb">FL</text>
<line x1="340.20" y1="119.30" x2="299.87" y2="149.76" stroke-width="0.85" />
<polygon points="288.70,158.20 298.94,148.53 300.81,151.00" fill="#000" stroke="#000" stroke-width="0.5" stroke-linejoin="miter"/>
<line x1="383.10" y1="145.40" x2="398.40" y2="145.40" stroke-width="0.9" />
<text x="386.40" y="143.30" font-size="12.3" font-style="italic" textLength="14.30" lengthAdjust="spacingAndGlyphs" class="lb">RR</text>
<line x1="383.10" y1="145.40" x2="342.80" y2="175.60" stroke-width="0.85" />
<polygon points="331.60,184.00 341.87,174.36 343.73,176.84" fill="#000" stroke="#000" stroke-width="0.5" stroke-linejoin="miter"/>
<line x1="415.70" y1="163.40" x2="429.20" y2="163.40" stroke-width="0.9" />
<text x="419.50" y="161.30" font-size="12.3" font-style="italic" textLength="11.50" lengthAdjust="spacingAndGlyphs" class="lb">RL</text>
<line x1="415.70" y1="163.40" x2="376.28" y2="193.08" stroke-width="0.85" />
<polygon points="365.10,201.50 375.35,191.84 377.22,194.32" fill="#000" stroke="#000" stroke-width="0.5" stroke-linejoin="miter"/>
<line x1="452.80" y1="184.70" x2="466.30" y2="184.70" stroke-width="0.9" />
<text x="455.80" y="182.60" font-size="12.3" font-style="italic" textLength="12.80" lengthAdjust="spacingAndGlyphs" class="lb">FR</text>
<line x1="452.80" y1="184.70" x2="412.65" y2="214.46" stroke-width="0.85" />
<polygon points="401.40,222.80 411.72,213.22 413.57,215.71" fill="#000" stroke="#000" stroke-width="0.5" stroke-linejoin="miter"/>
<line x1="41.80" y1="341.50" x2="81.40" y2="341.50" stroke-width="0.9" />
<text x="42.50" y="339.40" font-size="12.3" font-style="italic" textLength="37.60" lengthAdjust="spacingAndGlyphs" class="lb">FRONT</text>
<line x1="81.40" y1="341.50" x2="98.43" y2="324.03" stroke-width="0.85" />
<polygon points="108.20,314.00 99.54,325.11 97.32,322.94" fill="#000" stroke="#000" stroke-width="0.5" stroke-linejoin="miter"/>
<line x1="86.60" y1="364.10" x2="117.70" y2="364.10" stroke-width="0.9" />
<text x="86.80" y="362.00" font-size="12.3" font-style="italic" textLength="30.00" lengthAdjust="spacingAndGlyphs" class="lb">REAR</text>
<line x1="117.70" y1="364.10" x2="146.53" y2="336.23" stroke-width="0.85" />
<polygon points="156.60,326.50 147.61,337.34 145.46,335.12" fill="#000" stroke="#000" stroke-width="0.5" stroke-linejoin="miter"/>
<line x1="127.50" y1="386.60" x2="158.50" y2="386.60" stroke-width="0.9" />
<text x="127.90" y="384.50" font-size="12.3" font-style="italic" textLength="30.00" lengthAdjust="spacingAndGlyphs" class="lb">REAR</text>
<line x1="158.50" y1="386.60" x2="185.60" y2="359.50" stroke-width="0.85" />
<polygon points="195.50,349.60 186.70,360.60 184.50,358.40" fill="#000" stroke="#000" stroke-width="0.5" stroke-linejoin="miter"/>
<line x1="330.10" y1="421.40" x2="367.70" y2="421.40" stroke-width="0.9" />
<text x="333.90" y="419.30" font-size="12.3" font-style="italic" textLength="37.60" lengthAdjust="spacingAndGlyphs" class="lb">FRONT</text>
<line x1="330.10" y1="421.40" x2="310.99" y2="389.51" stroke-width="0.85" />
<polygon points="303.80,377.50 312.32,388.71 309.67,390.31" fill="#000" stroke="#000" stroke-width="0.5" stroke-linejoin="miter"/>
<line x1="458.40" y1="481.30" x2="489.00" y2="481.30" stroke-width="0.9" />
<text x="461.90" y="479.20" font-size="12.3" font-style="italic" textLength="30.00" lengthAdjust="spacingAndGlyphs" class="lb">REAR</text>
<line x1="458.40" y1="481.30" x2="441.60" y2="459.32" stroke-width="0.85" />
<polygon points="433.10,448.20 442.83,458.38 440.37,460.26" fill="#000" stroke="#000" stroke-width="0.5" stroke-linejoin="miter"/>
<line x1="625.80" y1="386.60" x2="656.10" y2="386.60" stroke-width="0.9" />
<text x="629.00" y="384.50" font-size="12.3" font-style="italic" textLength="29.50" lengthAdjust="spacingAndGlyphs" class="lb">REAR</text>
<line x1="625.80" y1="386.60" x2="611.19" y2="367.43" stroke-width="0.85" />
<polygon points="602.70,356.30 612.42,366.49 609.96,368.37" fill="#000" stroke="#000" stroke-width="0.5" stroke-linejoin="miter"/>
<line x1="599.50" y1="438.30" x2="636.60" y2="438.30" stroke-width="0.9" />
<text x="602.70" y="436.20" font-size="12.3" font-style="italic" textLength="38.00" lengthAdjust="spacingAndGlyphs" class="lb">FRONT</text>
<line x1="599.50" y1="438.30" x2="580.26" y2="405.93" stroke-width="0.85" />
<polygon points="573.10,393.90 581.59,405.14 578.92,406.73" fill="#000" stroke="#000" stroke-width="0.5" stroke-linejoin="miter"/>
</svg>
</body></html>
